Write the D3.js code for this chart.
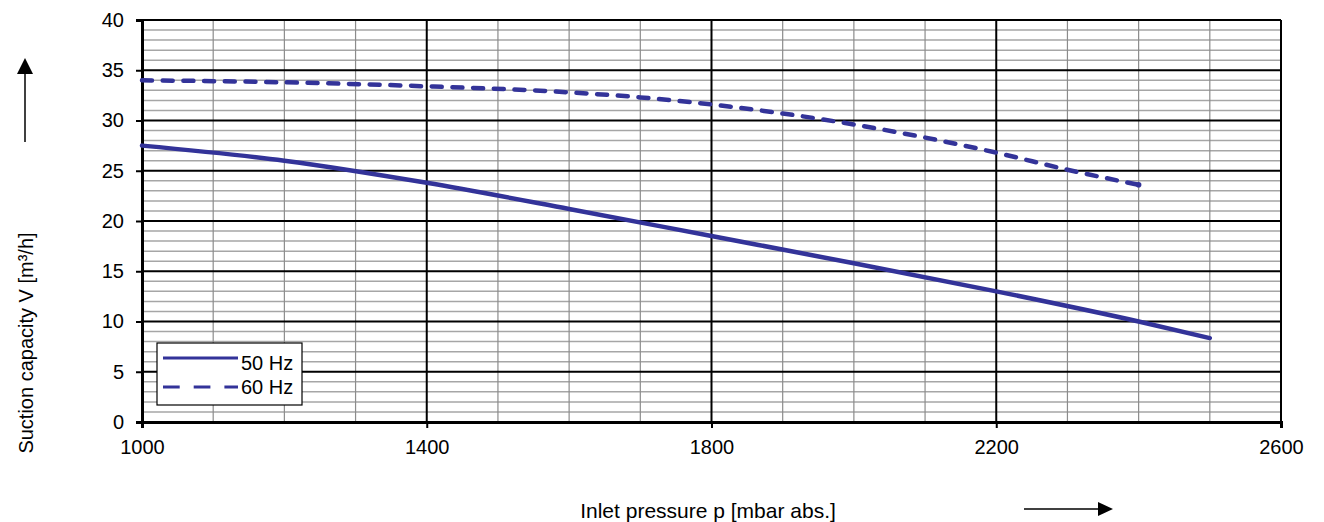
<!DOCTYPE html>
<html>
<head>
<meta charset="utf-8">
<script src="https://cdn.jsdelivr.net/npm/d3@7"></script>
<style>
  body { margin: 0; background: #fff; }
  text { font-family: "Liberation Sans", Arial, sans-serif; fill: #000; }
</style>
</head>
<body>
<div id="chart"></div>
<script>
/* Data */
var pressure50 = [1000, 1200, 1400, 1600, 1800, 2000, 2200, 2400, 2500];
var capacity50 = [27.5, 26.0, 23.8, 21.2, 18.5, 15.8, 13.0, 10.0, 8.35];
var pressure60 = [1000, 1200, 1400, 1600, 1700, 1800, 1900, 2000, 2100, 2200, 2300, 2400];
var capacity60 = [34.0, 33.8, 33.4, 32.8, 32.3, 31.6, 30.7, 29.6, 28.3, 26.8, 25.1, 23.6];
var seriesNames = ["50 Hz", "60 Hz"];
var xTicks = [1000, 1400, 1800, 2200, 2600];
var yTicks = [0, 5, 10, 15, 20, 25, 30, 35, 40];

/* Overall SVG Container */
var width = 1324,
    height = 522;
var margin = { top: 20, left: 142, right: 43, bottom: 100 };
var lineColor = "#333399",
    fontSize = 20,
    fontFamily = "Liberation Sans, Arial, sans-serif";

var svg = d3.select("#chart")
    .append("svg")
    .attr("width", width)
    .attr("height", height);

var x = d3.scaleLinear().domain([1000, 2600]).range([margin.left, width - margin.right]);
var y = d3.scaleLinear().domain([0, 40]).range([height - margin.bottom, margin.top]);

/* Minor grid */
svg.append("g")
    .selectAll("line")
    .data(d3.range(1, 40).filter(function(d) { return d % 5 != 0; }))
    .enter().append("line")
    .attr("x1", x(1000)).attr("x2", x(2600))
    .attr("y1", function(d) { return y(d); })
    .attr("y2", function(d) { return y(d); })
    .attr("stroke", "#a6a6a6")
    .attr("stroke-width", 1.5);

svg.append("g")
    .selectAll("line")
    .data(d3.range(1100, 2600, 100).filter(function(d) { return (d - 1000) % 400 != 0; }))
    .enter().append("line")
    .attr("x1", function(d) { return x(d); })
    .attr("x2", function(d) { return x(d); })
    .attr("y1", y(0)).attr("y2", y(40))
    .attr("stroke", "#8c8c8c")
    .attr("stroke-width", 1.2);

/* Major grid */
svg.append("g")
    .selectAll("line")
    .data(yTicks)
    .enter().append("line")
    .attr("x1", x(1000)).attr("x2", x(2600))
    .attr("y1", function(d) { return y(d); })
    .attr("y2", function(d) { return y(d); })
    .attr("stroke", "#000")
    .attr("stroke-width", 2);

svg.append("g")
    .selectAll("line")
    .data(xTicks)
    .enter().append("line")
    .attr("x1", function(d) { return x(d); })
    .attr("x2", function(d) { return x(d); })
    .attr("y1", y(0)).attr("y2", y(40))
    .attr("stroke", "#000")
    .attr("stroke-width", 2);

/* Axes */
var yAxis = svg.append("g")
    .attr("transform", "translate(" + x(1000) + ",0)")
    .call(d3.axisLeft(y).tickValues(yTicks).tickSize(6).tickPadding(12));
yAxis.select(".domain").attr("stroke-width", 3);
yAxis.selectAll(".tick line").attr("stroke-width", 2);
yAxis.selectAll("text").attr("font-size", fontSize).attr("font-family", fontFamily);

var xAxis = svg.append("g")
    .attr("transform", "translate(0," + y(0) + ")")
    .call(d3.axisBottom(x).tickValues(xTicks).tickSize(6).tickPadding(12).tickFormat(d3.format("d")));
xAxis.select(".domain").attr("stroke-width", 3);
xAxis.selectAll(".tick line").attr("stroke-width", 2);
xAxis.selectAll("text").attr("font-size", fontSize).attr("font-family", fontFamily);

/* Curves */
var line = d3.line()
    .x(function(d) { return x(d[0]); })
    .y(function(d) { return y(d[1]); })
    .curve(d3.curveMonotoneX);

svg.append("path")
    .datum(d3.zip(pressure50, capacity50))
    .attr("d", line)
    .attr("fill", "none")
    .attr("stroke", lineColor)
    .attr("stroke-width", 4.5)
    .attr("stroke-linecap", "round");

svg.append("path")
    .datum(d3.zip(pressure60, capacity60))
    .attr("d", line)
    .attr("fill", "none")
    .attr("stroke", lineColor)
    .attr("stroke-width", 4.5)
    .attr("stroke-linecap", "round")
    .attr("stroke-dasharray", "10,10.7");

/* End dot of the 60 Hz curve */
svg.append("circle")
    .attr("cx", x(pressure60[pressure60.length - 1]))
    .attr("cy", y(capacity60[capacity60.length - 1]))
    .attr("r", 2.8)
    .attr("fill", lineColor);

/* Legend */
var legend = svg.append("g").attr("transform", "translate(157,343)");
legend.append("rect")
    .attr("width", 145).attr("height", 62)
    .attr("fill", "#fff").attr("stroke", "#000").attr("stroke-width", 1.2);
legend.selectAll("line")
    .data(seriesNames)
    .enter().append("line")
    .attr("x1", 6).attr("x2", 81)
    .attr("y1", function(d, i) { return 15 + i * 29; })
    .attr("y2", function(d, i) { return 15 + i * 29; })
    .attr("stroke", lineColor)
    .attr("stroke-width", 3)
    .attr("stroke-dasharray", function(d, i) { return i ? "16.7,14" : null; });
legend.selectAll("text")
    .data(seriesNames)
    .enter().append("text")
    .attr("x", 84)
    .attr("y", function(d, i) { return 27 + i * 24; })
    .attr("font-size", fontSize)
    .text(function(d) { return d; });

/* Axis titles and arrows */
svg.append("text")
    .attr("transform", "translate(33,343) rotate(-90)")
    .attr("text-anchor", "middle")
    .attr("font-size", fontSize)
    .text("Suction capacity V [m³/h]");

svg.append("line")
    .attr("x1", 25).attr("y1", 142).attr("x2", 25).attr("y2", 70)
    .attr("stroke", "#000").attr("stroke-width", 1.5);
svg.append("path")
    .attr("d", "M25,58L17,74L33,74Z").attr("fill", "#000");

svg.append("text")
    .attr("x", 708).attr("y", 518)
    .attr("text-anchor", "middle")
    .attr("font-size", 21)
    .text("Inlet pressure p [mbar abs.]");

svg.append("line")
    .attr("x1", 1024).attr("y1", 509).attr("x2", 1100).attr("y2", 509)
    .attr("stroke", "#000").attr("stroke-width", 1.5);
svg.append("path")
    .attr("d", "M1113,509L1098,502L1098,516Z").attr("fill", "#000");
</script>
</body>
</html>
